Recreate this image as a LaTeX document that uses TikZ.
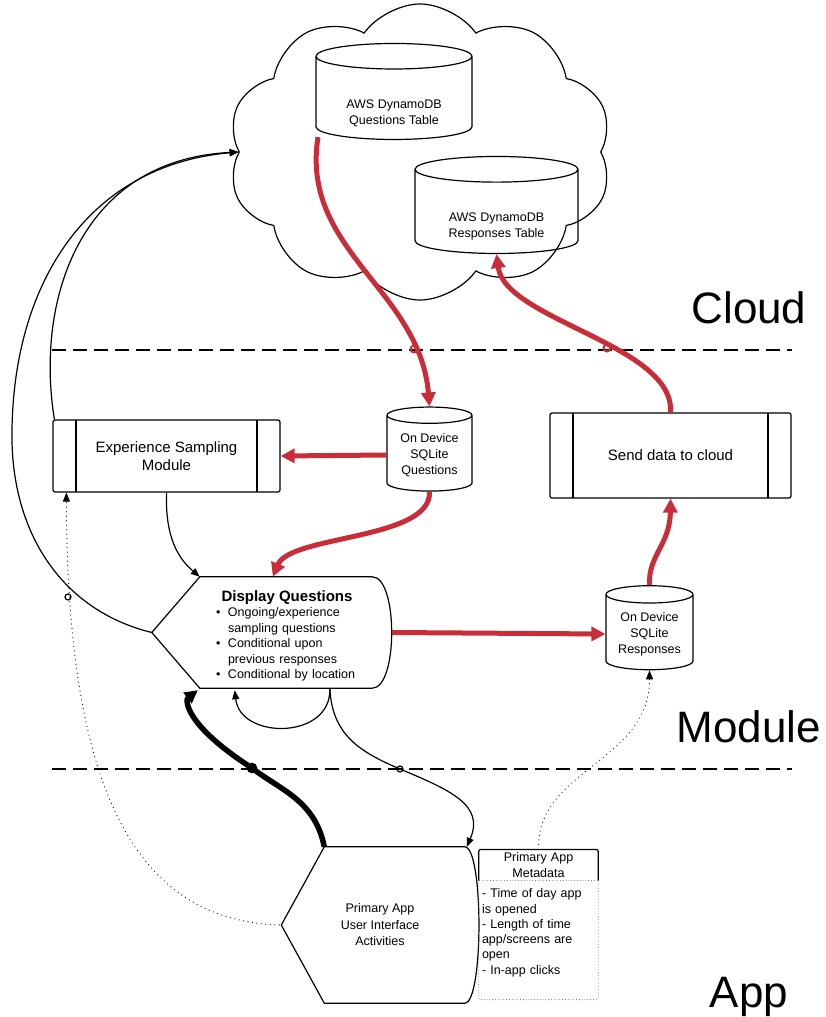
\documentclass[tikz,border=0pt]{standalone}
\usepackage{fontspec}
\setmainfont{Liberation Sans}
\usetikzlibrary{shapes.geometric,shapes.symbols,shapes.multipart,arrows.meta,calc}
\definecolor{flowred}{RGB}{201,45,57}
\tikzstyle{outline} = [draw = black, line width = 1.2pt]
\tikzstyle{dbcyl} = [cylinder, shape border rotate = 90, outline, aspect = 0.25, align = center, font = \fontsize{12.5}{16}\selectfont]
\tikzstyle{procbox} = [rectangle, rounded corners = 2pt, outline, align = center, font = \fontsize{15}{18}\selectfont,
  path picture = {\draw[line width = 1.2pt] ([xshift = 23pt]path picture bounding box.north west) -- ([xshift = 23pt]path picture bounding box.south west);
                  \draw[line width = 1.2pt] ([xshift = -23pt]path picture bounding box.north east) -- ([xshift = -23pt]path picture bounding box.south east);}]
\tikzstyle{layer} = [font = \fontsize{44}{50}\selectfont, anchor = base]
\tikzstyle{redflow} = [draw = flowred, line width = 5pt, -{Triangle[length = 14pt, width = 14pt]}]
\tikzstyle{thinflow} = [draw = black, line width = 1.2pt, -{Triangle[length = 9pt, width = 7pt]}]
\tikzstyle{thickflow} = [draw = black, line width = 5.5pt, -{Triangle[length = 13pt, width = 13pt]}]
\tikzstyle{dotflow} = [draw = black, line width = 1.2pt, line cap = round, dash pattern = on 0pt off 4.5pt, -{Triangle[length = 9pt, width = 7pt]}]
\tikzstyle{divider} = [draw = black, line width = 1.5pt, dash pattern = on 14pt off 7pt]
\newcommand{\dqitem}[1]{\par\noindent\hangindent = 16pt\hangafter = 1\makebox[16pt][l]{\hspace{4pt}\textbullet}#1}

\begin{document}
\begin{tikzpicture}[x = 1pt, y = -1pt]
        \useasboundingbox (0,0) rectangle (826,1017);
        % cloud layer
        \node (cloud) [cloud, outline, cloud puffs = 10, cloud puff arc = 110, cloud ignores aspect, minimum width = 384pt, minimum height = 296pt] at (420,152) {};
        \node (dbq) [dbcyl, minimum width = 156pt, minimum height = 96pt] at (394,100) {\rule{0pt}{35pt}AWS DynamoDB\\Questions Table};
        \node (dbr) [dbcyl, minimum width = 163pt, minimum height = 97pt] at (496.5,213.5) {\rule{0pt}{35pt}AWS DynamoDB\\Responses Table};
        \node (cloudlbl) [layer] at (749,323) {Cloud};
        \draw [divider] (52,350) -- (792,350);
        % module layer
        \node (sqlq) [dbcyl, minimum width = 85pt, minimum height = 84pt] at (429.5,455) {On Device\\SQLite\\Questions};
        \node (sqlr) [dbcyl, minimum width = 87pt, minimum height = 84pt] at (649.5,634) {On Device\\SQLite\\Responses};
        \node (esm) [procbox, minimum width = 227pt, minimum height = 72pt] at (166.5,456) {Experience Sampling\\Module};
        \node (send) [procbox, minimum width = 241pt, minimum height = 85pt] at (670.5,455.5) {Send data to cloud};
        \node (disp) [minimum width = 240pt, minimum height = 111pt] at (272,632.5) {};
        \draw [outline] (disp.west) -- ($(disp.north west)+(48,0)$) -- ($(disp.north east)+(-20,0)$)
            .. controls ($(disp.north east)+(6,0)$) and ($(disp.south east)+(6,0)$) .. ($(disp.south east)+(-20,0)$)
            -- ($(disp.south west)+(48,0)$) -- cycle;
        \node (disptxt) [text width = 150pt, font = \fontsize{12.5}{15.5}\selectfont] at (287,636)
            {{\centering\textbf{\fontsize{15}{18}\selectfont Display Questions}\par}
             \raggedright
             \dqitem{Ongoing/experience sampling questions}
             \dqitem{Conditional upon previous responses}
             \dqitem{Conditional by location}\par};
        \node (modlbl) [layer] at (749,742) {Module};
        \draw [divider] (52,769) -- (792,769);
        % app layer
        \node (app) [minimum width = 197pt, minimum height = 156pt, align = center, font = \fontsize{12.5}{16.5}\selectfont] at (380,925) {Primary App\\User Interface\\Activities};
        \draw [outline] (app.west) -- ($(app.north west)+(43,0)$) -- ($(app.north east)+(-14,0)$)
            .. controls ($(app.north east)+(5,0)$) and ($(app.south east)+(5,0)$) .. ($(app.south east)+(-14,0)$)
            -- ($(app.south west)+(43,0)$) -- cycle;
        \node (meta) [rectangle split, rectangle split parts = 2, rectangle split draw splits = false, inner sep = 3pt, text width = 113pt,
            font = \fontsize{12.5}{15.3}\selectfont] at (538.5,924.5)
            {\centering Primary App\\Metadata\par
             \nodepart{two}\raggedright \rule{0pt}{14pt}- Time of day app\\is opened\\- Length of time\\app/screens are\\open\\- In-app clicks\rule[-22pt]{0pt}{1pt}};
        \draw [outline, rounded corners = 2pt] (meta.text split west) |- (meta.north east) -- (meta.text split east);
        \draw [draw = gray, line width = 0.8pt, dotted, rounded corners = 2pt] (meta.text split west) |- (meta.south east) -- (meta.text split east) -- (meta.text split west);
        \node (applbl) [layer] at (749,1007) {App};
        % red data flow
        \draw [redflow] ($(dbq.south)+(-76,-3)$) .. controls (300,250) and (420,290) .. (sqlq.north);
        \draw [redflow] (send.north) .. controls (675,345) and (505,320) .. (dbr.south);
        \draw [redflow] (sqlq.west) -- (esm.east);
        \draw [redflow] (sqlq.south) .. controls (432,540) and (290,535) .. ($(disp.north west)+(121,0)$);
        \draw [redflow] (disp.east) -- (sqlr.west);
        \draw [redflow] (sqlr.north) .. controls (648,555) and (670,545) .. (send.south);
        % control flow
        \draw [thinflow] (esm.south) .. controls (165,540) and (180,560) .. ($(disp.north west)+(48,0)$);
        \draw [thinflow] ($(esm.north west)+(2,0)$) .. controls (35,300) and (80,160) .. (cloud.west);
        \draw [thinflow] (disp.west) .. controls (60,610) and (10,530) .. (12,430) .. controls (14,280) and (90,165) .. (cloud.west);
        \draw [thinflow] ($(disp.south west)+(178,0)$) .. controls (332,740) and (240,740) .. ($(disp.south west)+(83,2)$);
        \draw [thinflow] ($(disp.south west)+(178,0)$) .. controls (332,735) and (360,752) .. (400,769) .. controls (450,790) and (485,805) .. ($(app.north east)+(-12,0)$);
        \draw [thickflow] ($(app.north west)+(43,0)$) .. controls (315,800) and (280,790) .. (252,768) .. controls (185,725) and (185,700) .. ($(disp.south west)+(46,2)$);
        \draw [dotflow] ($(app.west)+(-2,0)$) .. controls (130,920) and (67,780) .. ($(esm.south west)+(14,0)$);
        \draw [dotflow, shorten < = 5pt] (meta.north) .. controls (540,770) and (650,760) .. (sqlr.south);
        % line hops
        \draw [flowred, line width = 2pt] (414,349) circle (3.5pt);
        \draw [flowred, line width = 2pt] (607,348) circle (3.5pt);
        \draw [line width = 1.2pt] (68,597) circle (3pt);
        \draw [line width = 1.2pt] (400,769) circle (3pt);
        \draw [line width = 2.5pt] (252,768) circle (4pt);
\end{tikzpicture}
\end{document}
